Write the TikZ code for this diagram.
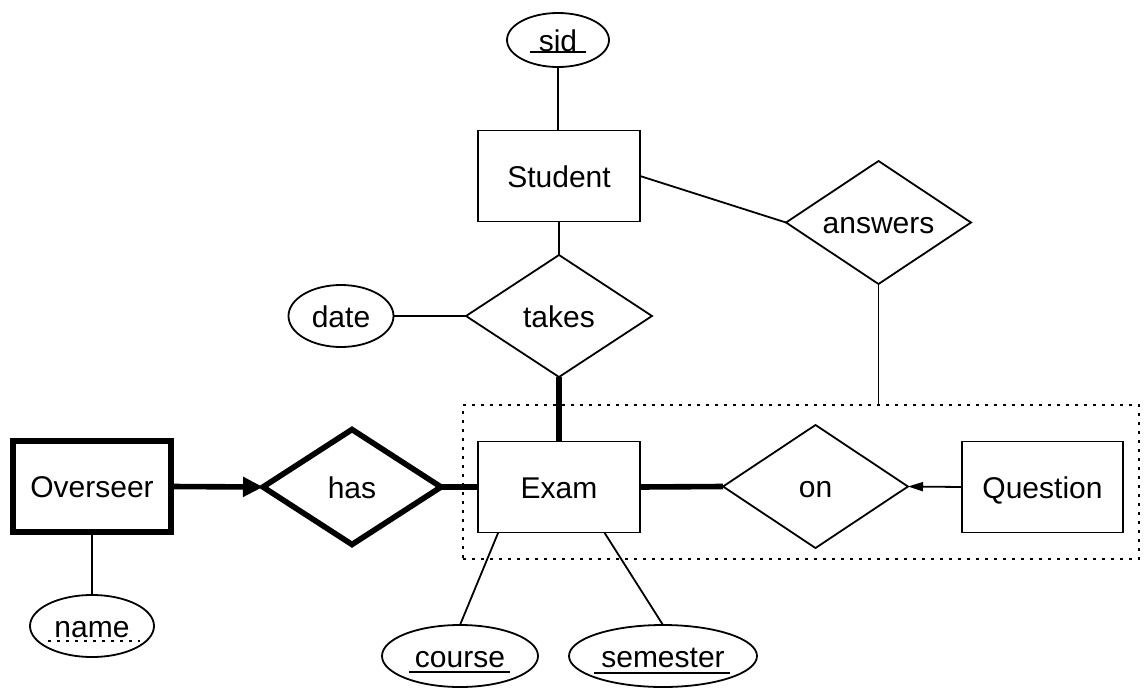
\documentclass[tikz,border=0pt]{standalone}
\usepackage{fontspec}
\setmainfont{Liberation Sans}
\usetikzlibrary{shapes.geometric,arrows.meta,calc}

\tikzset{
  erfont/.style={font=\fontsize{30}{36}\selectfont, text height=22pt, text depth=0pt},
  thin/.style={line width=1.8pt},
  heavy/.style={line width=5.6pt},
  entity/.style={erfont, draw, thin, rectangle, inner sep=0pt, outer sep=0pt,
                 minimum width=162pt, minimum height=91pt},
  weakentity/.style={entity, heavy, minimum width=158pt, minimum height=91pt},
  attr/.style={erfont, draw, thin, ellipse, inner sep=0pt, outer sep=0pt},
  rel/.style={erfont, draw, thin, diamond, aspect=1.5, inner sep=0pt, outer sep=0pt,
              minimum width=185pt, minimum height=123pt},
  weakrel/.style={rel, heavy, line join=miter, minimum width=178pt, minimum height=115pt},
  dotline/.style={line width=2.8pt, dash pattern=on 2.8pt off 6.2pt},
  keyline/.style={line width=1.8pt},
}

\begin{document}
\begin{tikzpicture}[x=1pt, y=-1pt]
  \useasboundingbox (0,0) rectangle (1146,688);

  % aggregation box around Exam -- on -- Question
  \node[draw, dotline, rectangle, inner sep=0pt, minimum width=676pt, minimum height=154pt]
    (agg) at (801,482) {};

  % entities
  \node[entity] (Student)  at (559,176)   {Student};
  \node[entity] (Exam)     at (559,487)   {Exam};
  \node[entity, minimum width=161pt] (Question) at (1042.5,487) {Question};
  \node[weakentity] (Overseer) at (92,486.5) {Overseer};

  % relationships
  \node[rel] (answers) at (878.5,222.5) {answers};
  \node[rel, minimum width=186pt, minimum height=122pt] (takes) at (559,316) {takes};
  \node[rel] (on) at (815.5,486.5) {on};
  \node[weakrel] (has) at (352,487) {has};

  % attributes
  \node[attr, minimum width=102pt, minimum height=54pt] (sid) at (558,40) {sid};
  \node[attr, minimum width=105pt, minimum height=62pt] (date) at (341,316) {date};
  \node[attr, minimum width=124pt, minimum height=62pt] (name) at (92,626) {name};
  \node[attr, minimum width=156pt, minimum height=62pt] (course) at (460,656) {course};
  \node[attr, minimum width=188pt, minimum height=62pt] (semester) at (663,656) {semester};

  % key underlines
  \draw[keyline] ($(sid.center)+(-28,12)$) -- ($(sid.center)+(28,12)$);
  \draw[keyline] ($(course.center)+(-51,16)$) -- ($(course.center)+(50,16)$);
  \draw[keyline] ($(semester.center)+(-69,17)$) -- ($(semester.center)+(67,17)$);
  \draw[dotline, line width=2.6pt, dash pattern=on 2.6pt off 6.4pt]
    ($(name.center)+(-44,15)$) -- ($(name.center)+(48,15)$);

  % connectors
  \draw[thin] (sid.south) -- (sid.south |- Student.north);
  \draw[thin] (Student.east) -- (answers.west);
  \draw[thin] (answers.south) -- (answers.south |- agg.north);
  \draw[thin] (Student.south) -- (takes.north);
  \draw[thin] (date.east) -- (takes.west);
  \draw[heavy] (takes.south) -- (Exam.north);
  \draw[heavy, -{Triangle[length=20pt,width=19pt]}] (Overseer.east) -- (has.west);
  \draw[heavy] (has.east) -- (Exam.west);
  \draw[heavy] (Exam.east) -- (on.west);
  \draw[thin, -{Triangle[length=15pt,width=9pt]}] (Question.west) -- (on.east);
  \draw[thin] (Overseer.south) -- (name.north);
  \draw[thin] ($(Exam.south west)!0.125!(Exam.south east)$) -- (course.north);
  \draw[thin] ($(Exam.south west)!0.78!(Exam.south east)$) -- (semester.north);
\end{tikzpicture}
\end{document}
